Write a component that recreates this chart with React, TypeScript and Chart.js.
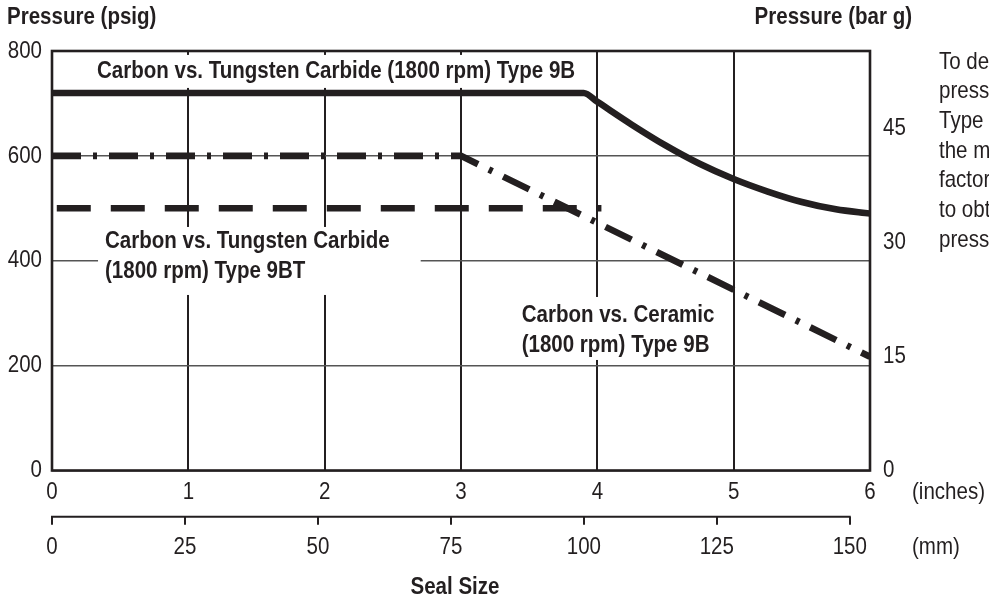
import React, { useEffect, useRef } from "react";
import { Chart, registerables } from "chart.js";

Chart.register(...registerables);

// ---- axis ticks ----
const INCH_TICKS = [0, 1, 2, 3, 4, 5, 6];
const MM_TICKS = [0, 25, 50, 75, 100, 125, 150];
const MM_AXIS_MAX = 153.8;
const PSIG_TICKS = [0, 200, 400, 600, 800];
const BAR_TICKS = [0, 15, 30, 45];
const PSI_PER_BAR = 14.5038;

// ---- series (seal size in inches, pressure in psig) ----
const TC9B_X = [0, 3.9, 4.0, 4.25, 4.5, 4.75, 5.0, 5.25, 5.5, 5.75, 6.0];
const TC9B_Y = [720, 720, 703, 660, 620, 585, 556, 532, 512, 498, 490];
const CER9B_X = [0, 3.0, 6.0];
const CER9B_Y = [600, 600, 217];
const TC9BT_X = [0.035, 4.03];
const TC9BT_Y = [500, 500];

// ---- texts ----
const LEFT_TITLE = "Pressure (psig)";
const RIGHT_TITLE = "Pressure (bar g)";
const X_TITLE = "Seal Size";
const INCH_UNIT = "(inches)";
const MM_UNIT = "(mm)";
const LABEL_TC9B = ["Carbon vs. Tungsten Carbide (1800 rpm) Type 9B"];
const LABEL_TC9BT = ["Carbon vs. Tungsten Carbide", "(1800 rpm) Type 9BT"];
const LABEL_CER9B = ["Carbon vs. Ceramic", "(1800 rpm) Type 9B"];
const NOTE_LINES = [
  "To determine",
  "pressure for",
  "Type  9BT seals,",
  "the maximum",
  "factor of 0.8",
  "to obtain the",
  "pressure rating.",
];

const INK = "#231f20";
const FAMILY = "'Liberation Sans', Arial, Helvetica, sans-serif";
const FS = 24;
const SX = 0.855; // horizontal condensing to mimic a condensed face

const pts = (xs: number[], ys: number[]) => xs.map((x, i) => ({ x, y: ys[i] }));

function setFont(ctx: CanvasRenderingContext2D, bold: boolean) {
  ctx.font = `${bold ? "bold " : ""}${FS}px ${FAMILY}`;
}

function drawText(
  ctx: CanvasRenderingContext2D,
  text: string,
  x: number,
  y: number,
  align: CanvasTextAlign,
  bold = false
) {
  ctx.save();
  setFont(ctx, bold);
  ctx.textBaseline = "middle";
  ctx.textAlign = align;
  ctx.fillStyle = INK;
  ctx.translate(x, y);
  ctx.scale(SX, 1);
  ctx.fillText(text, 0, 0);
  ctx.restore();
}

function textWidth(ctx: CanvasRenderingContext2D, text: string, bold = false) {
  ctx.save();
  setFont(ctx, bold);
  const w = ctx.measureText(text).width * SX;
  ctx.restore();
  return w;
}

export default function App() {
  const ref = useRef<HTMLCanvasElement>(null);

  useEffect(() => {
    if (!ref.current) return;

    const labels = [
      { lines: LABEL_TC9B, x: 0.33, y: 762, spacing: 30, padL: 7, padR: 8, padT: 16, padB: 17 },
      { lines: LABEL_TC9BT, x: 0.389, y: 436.4, spacing: 30, padL: 7, padR: 31, padT: 14.7, padB: 23.3 },
      { lines: LABEL_CER9B, x: 3.445, y: 296.6, spacing: 30, padL: 8, padR: 8, padT: 18, padB: 15 },
    ];

    const overlay = {
      id: "overlay",
      beforeDatasetsDraw(chart: any) {
        const { ctx, chartArea: ca, scales } = chart;
        const sx = scales.x;
        const sy = scales.y;
        ctx.save();
        for (const l of labels) {
          const px = sx.getPixelForValue(l.x);
          const py = sy.getPixelForValue(l.y);
          const w = Math.max(...l.lines.map((t) => textWidth(ctx, t, true)));
          const h = (l.lines.length - 1) * l.spacing;
          ctx.fillStyle = "#ffffff";
          ctx.fillRect(px - l.padL, py - l.padT, w + l.padL + l.padR, h + l.padT + l.padB);
          l.lines.forEach((t, i) => drawText(ctx, t, px, py + i * l.spacing, "left", true));
        }
        // frame
        ctx.strokeStyle = INK;
        ctx.lineWidth = 2.6;
        ctx.strokeRect(ca.left, ca.top, ca.right - ca.left, ca.bottom - ca.top);
        ctx.restore();
      },
      afterDraw(chart: any) {
        const { ctx, chartArea: ca, scales } = chart;
        const { x, mm, y, y2 } = scales;
        ctx.save();
        // mm axis line (only 0..150)
        ctx.strokeStyle = INK;
        ctx.lineWidth = 2;
        ctx.beginPath();
        ctx.moveTo(mm.getPixelForValue(MM_TICKS[0]) - 1, mm.top);
        ctx.lineTo(mm.getPixelForValue(MM_TICKS[MM_TICKS.length - 1]) + 1, mm.top);
        ctx.stroke();
        ctx.restore();

        // tick labels from the scales
        x.ticks.forEach((t: any) =>
          drawText(ctx, String(t.value), x.getPixelForValue(t.value), ca.bottom + 21.5, "center")
        );
        mm.ticks.forEach((t: any) =>
          drawText(ctx, String(t.value), mm.getPixelForValue(t.value), mm.top + 31, "center")
        );
        y.ticks.forEach((t: any) =>
          drawText(ctx, String(t.value), ca.left - 10, y.getPixelForValue(t.value), "right")
        );
        y2.ticks.forEach((t: any) =>
          drawText(ctx, String(t.value), ca.right + 13, y2.getPixelForValue(t.value), "left")
        );

        // titles
        drawText(ctx, LEFT_TITLE, 7, 17, "left", true);
        drawText(ctx, RIGHT_TITLE, 912, 17, "right", true);
        drawText(ctx, X_TITLE, (ca.left + ca.right) / 2 - 6, mm.top + 70.5, "center", true);
        // units
        drawText(ctx, INCH_UNIT, 912, ca.bottom + 21.5, "left");
        drawText(ctx, MM_UNIT, 912, mm.top + 31, "left");
        // note (clipped by canvas edge)
        NOTE_LINES.forEach((t, i) => drawText(ctx, t, 939, 62 + i * 29.7, "left"));
      },
    };

    const chart = new Chart(ref.current, {
      type: "line",
      data: {
        datasets: [
          {
            label: "Carbon vs. Tungsten Carbide (1800 rpm) Type 9B",
            data: pts(TC9B_X, TC9B_Y),
            borderColor: INK,
            borderWidth: 6.6,
            pointRadius: 0,
            cubicInterpolationMode: "monotone",
            borderCapStyle: "butt",
            xAxisID: "x",
            yAxisID: "y",
          },
          {
            label: "Carbon vs. Ceramic (1800 rpm) Type 9B",
            data: pts(CER9B_X, CER9B_Y),
            borderColor: INK,
            borderWidth: 6.6,
            borderDash: [29, 12, 4, 12],
            pointRadius: 0,
            tension: 0,
            borderCapStyle: "butt",
            xAxisID: "x",
            yAxisID: "y",
          },
          {
            label: "Carbon vs. Tungsten Carbide (1800 rpm) Type 9BT",
            data: pts(TC9BT_X, TC9BT_Y),
            borderColor: INK,
            borderWidth: 6.6,
            borderDash: [34, 20],
            pointRadius: 0,
            tension: 0,
            borderCapStyle: "butt",
            xAxisID: "x",
            yAxisID: "y",
          },
        ],
      },
      options: {
        responsive: false,
        animation: false,
        devicePixelRatio: 1,
        layout: { padding: { top: 51, left: 0, right: 0, bottom: 0 } },
        plugins: { legend: { display: false }, tooltip: { enabled: false } },
        scales: {
          x: {
            type: "linear",
            position: "bottom",
            weight: 0,
            min: 0,
            max: 6,
            afterBuildTicks: (s: any) => {
              s.ticks = INCH_TICKS.map((v) => ({ value: v }));
            },
            afterFit: (s: any) => {
              s.height = 46.2;
            },
            grid: { color: INK, lineWidth: 2, drawTicks: false },
            border: { display: false },
            ticks: { display: false },
          },
          mm: {
            type: "linear",
            position: "bottom",
            weight: 1,
            min: 0,
            max: MM_AXIS_MAX,
            afterBuildTicks: (s: any) => {
              s.ticks = MM_TICKS.map((v) => ({ value: v }));
            },
            afterFit: (s: any) => {
              s.height = 84.3;
            },
            grid: { drawOnChartArea: false, drawTicks: true, tickLength: 8, color: INK, lineWidth: 2 },
            border: { display: false },
            ticks: { display: false },
          },
          y: {
            type: "linear",
            position: "left",
            min: 0,
            max: 800,
            afterBuildTicks: (s: any) => {
              s.ticks = PSIG_TICKS.map((v) => ({ value: v }));
            },
            afterFit: (s: any) => {
              s.width = 52;
            },
            grid: { color: "#555555", lineWidth: 1.5, drawTicks: false },
            border: { display: false },
            ticks: { display: false },
          },
          y2: {
            type: "linear",
            position: "right",
            min: 0,
            max: 800 / PSI_PER_BAR,
            afterBuildTicks: (s: any) => {
              s.ticks = BAR_TICKS.map((v) => ({ value: v }));
            },
            afterFit: (s: any) => {
              s.width = 119;
            },
            grid: { display: false, drawTicks: false },
            border: { display: false },
            ticks: { display: false },
          },
        },
      },
      plugins: [overlay],
    } as any);

    return () => chart.destroy();
  }, []);

  return (
    <div style={{ position: "absolute", left: 0, top: 0, width: 989, height: 601, background: "#fff" }}>
      <canvas ref={ref} width={989} height={601} />
    </div>
  );
}
